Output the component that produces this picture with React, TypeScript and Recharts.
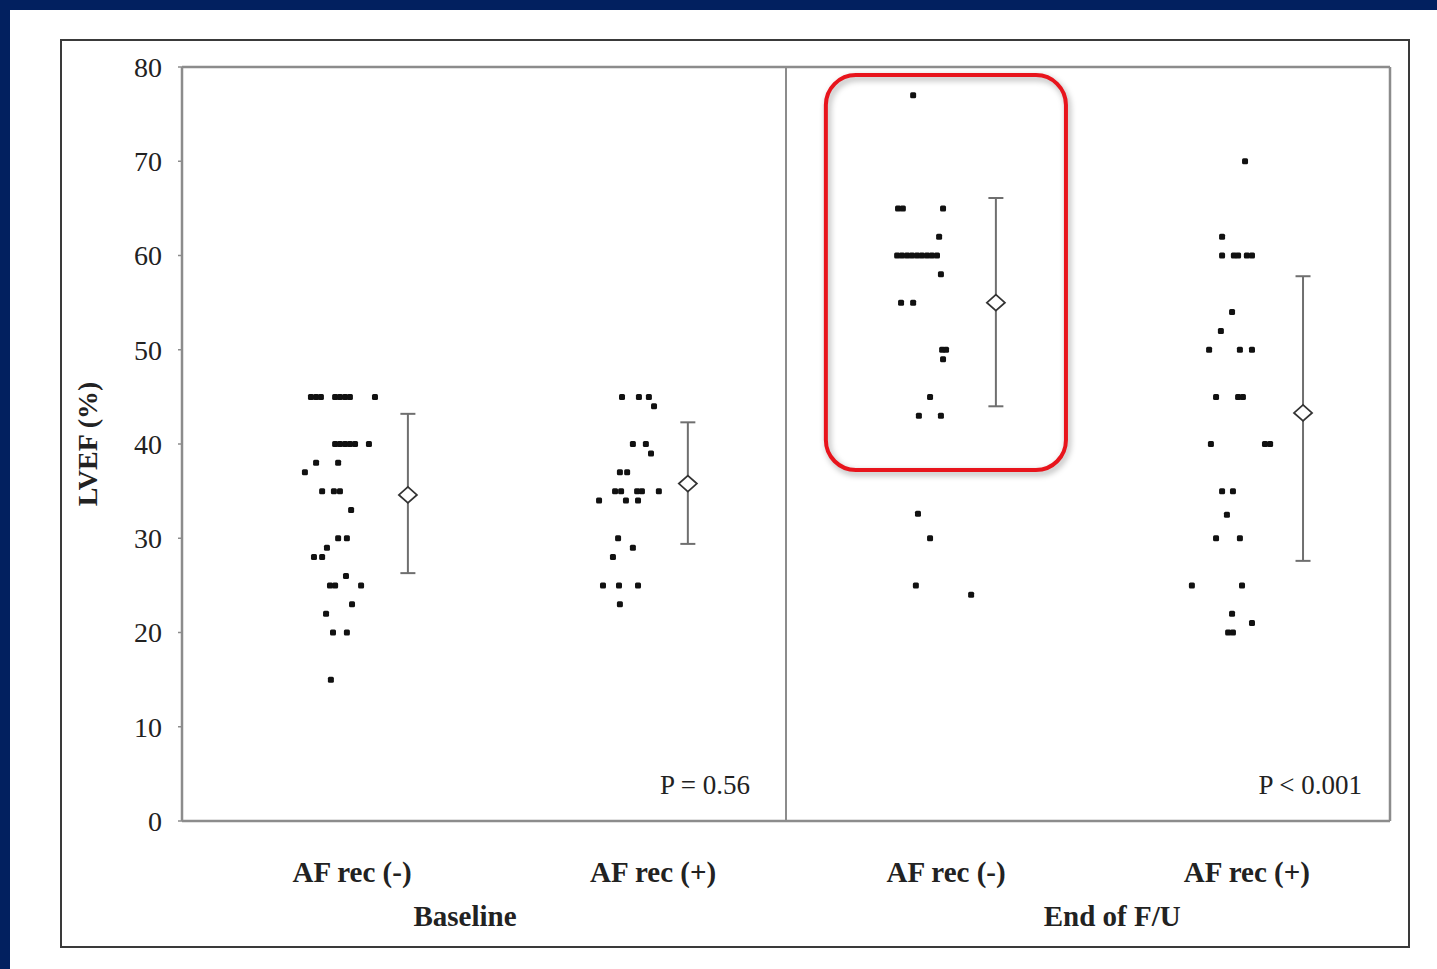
import {
  ErrorBar,
  ReferenceArea,
  ReferenceDot,
  ReferenceLine,
  Scatter,
  ScatterChart,
  XAxis,
  YAxis,
} from "recharts";

const CATEGORIES = ["AF rec (-)", "AF rec (+)", "AF rec (-)", "AF rec (+)"];
const CATEGORY_POS = [0.563, 1.56, 2.53, 3.526];
const GROUPS = ["Baseline", "End of F/U"];
const GROUP_POS = [0.937, 3.08];
const Y_TICKS = [0, 10, 20, 30, 40, 50, 60, 70, 80];

// individual patients (x = jittered position inside the category)
const BASE_NEG = [
  { x: 0.427, y: 45 }, { x: 0.444, y: 45 }, { x: 0.46, y: 45 }, { x: 0.507, y: 45 },
  { x: 0.523, y: 45 }, { x: 0.54, y: 45 }, { x: 0.556, y: 45 }, { x: 0.639, y: 45 },
  { x: 0.507, y: 40 }, { x: 0.523, y: 40 }, { x: 0.54, y: 40 }, { x: 0.556, y: 40 },
  { x: 0.573, y: 40 }, { x: 0.619, y: 40 },
  { x: 0.444, y: 38 }, { x: 0.517, y: 38 }, { x: 0.407, y: 37 },
  { x: 0.464, y: 35 }, { x: 0.503, y: 35 }, { x: 0.523, y: 35 },
  { x: 0.56, y: 33 }, { x: 0.517, y: 30 }, { x: 0.546, y: 30 }, { x: 0.48, y: 29 },
  { x: 0.437, y: 28 }, { x: 0.464, y: 28 }, { x: 0.543, y: 26 },
  { x: 0.49, y: 25 }, { x: 0.507, y: 25 }, { x: 0.593, y: 25 },
  { x: 0.563, y: 23 }, { x: 0.477, y: 22 }, { x: 0.5, y: 20 }, { x: 0.546, y: 20 },
  { x: 0.493, y: 15 },
];

const BASE_POS = [
  { x: 1.457, y: 45 }, { x: 1.513, y: 45 }, { x: 1.546, y: 45 }, { x: 1.563, y: 44 },
  { x: 1.493, y: 40 }, { x: 1.536, y: 40 }, { x: 1.553, y: 39 },
  { x: 1.45, y: 37 }, { x: 1.474, y: 37 },
  { x: 1.434, y: 35 }, { x: 1.454, y: 35 }, { x: 1.507, y: 35 }, { x: 1.523, y: 35 },
  { x: 1.579, y: 35 },
  { x: 1.381, y: 34 }, { x: 1.47, y: 34 }, { x: 1.51, y: 34 },
  { x: 1.444, y: 30 }, { x: 1.493, y: 29 }, { x: 1.427, y: 28 },
  { x: 1.394, y: 25 }, { x: 1.447, y: 25 }, { x: 1.51, y: 25 }, { x: 1.45, y: 23 },
];

const END_NEG = [
  { x: 2.421, y: 77 },
  { x: 2.371, y: 65 }, { x: 2.387, y: 65 }, { x: 2.52, y: 65 }, { x: 2.507, y: 62 },
  { x: 2.368, y: 60 }, { x: 2.384, y: 60 }, { x: 2.401, y: 60 }, { x: 2.417, y: 60 },
  { x: 2.434, y: 60 }, { x: 2.45, y: 60 }, { x: 2.467, y: 60 }, { x: 2.483, y: 60 },
  { x: 2.5, y: 60 },
  { x: 2.513, y: 58 }, { x: 2.381, y: 55 }, { x: 2.421, y: 55 },
  { x: 2.517, y: 50 }, { x: 2.53, y: 50 }, { x: 2.52, y: 49 },
  { x: 2.477, y: 45 }, { x: 2.44, y: 43 }, { x: 2.513, y: 43 },
  { x: 2.437, y: 32.6 }, { x: 2.477, y: 30 }, { x: 2.43, y: 25 }, { x: 2.613, y: 24 },
];

const END_POS = [
  { x: 3.52, y: 70 }, { x: 3.444, y: 62 },
  { x: 3.444, y: 60 }, { x: 3.483, y: 60 }, { x: 3.497, y: 60 }, { x: 3.526, y: 60 },
  { x: 3.543, y: 60 },
  { x: 3.477, y: 54 }, { x: 3.44, y: 52 },
  { x: 3.401, y: 50 }, { x: 3.503, y: 50 }, { x: 3.543, y: 50 },
  { x: 3.424, y: 45 }, { x: 3.497, y: 45 }, { x: 3.513, y: 45 },
  { x: 3.407, y: 40 }, { x: 3.586, y: 40 }, { x: 3.603, y: 40 },
  { x: 3.444, y: 35 }, { x: 3.48, y: 35 }, { x: 3.46, y: 32.5 },
  { x: 3.424, y: 30 }, { x: 3.503, y: 30 },
  { x: 3.344, y: 25 }, { x: 3.51, y: 25 }, { x: 3.477, y: 22 }, { x: 3.543, y: 21 },
  { x: 3.464, y: 20 }, { x: 3.48, y: 20 },
];

// group mean with low / high whisker
const MEAN_X = [0.748, 1.675, 2.695, 3.712];
const MEAN_Y = [34.6, 35.8, 55.0, 43.3];
const ERR_LOW = [26.3, 29.4, 44.0, 27.6];
const ERR_HIGH = [43.2, 42.3, 66.1, 57.8];

const P_LABELS = ["P = 0.56", "P < 0.001"];
const P_X = [1.881, 3.907];
const P_Y = 3.8;

// highlight box around End of F/U AF rec (-)
const HIGHLIGHT = { x1: 2.132, x2: 2.927, y1: 37.24, y2: 79.15 };

const SERIF = "'Liberation Serif', 'Times New Roman', serif";
const AXIS_GRAY = "#8c8c8c";

const means = MEAN_X.map((x, i) => ({
  x,
  y: MEAN_Y[i],
  err: [MEAN_Y[i] - ERR_LOW[i], ERR_HIGH[i] - MEAN_Y[i]],
}));

const Square = (p: any) => (
  <rect x={p.cx - 3} y={p.cy - 3} width={6} height={6} rx={1.5} fill="#111" />
);

const Diamond = (p: any) => (
  <polygon
    points={`${p.cx},${p.cy - 8} ${p.cx + 9},${p.cy} ${p.cx},${p.cy + 8} ${p.cx - 9},${p.cy}`}
    fill="#fff"
    stroke="#333"
    strokeWidth={1.8}
  />
);

const RoundBox = (p: any) => (
  <rect
    x={p.x}
    y={p.y}
    width={p.width}
    height={p.height}
    rx={30}
    ry={30}
    fill="none"
    stroke="#e8141c"
    strokeWidth={4}
    style={{ filter: "drop-shadow(2px 3px 3px rgba(0,0,0,0.35))" }}
  />
);

const pText = (label: string) => (p: any) => (
  <text
    x={p.cx}
    y={p.cy}
    textAnchor="end"
    dominantBaseline="central"
    fontFamily={SERIF}
    fontSize={27}
    fill="#222"
  >
    {label}
  </text>
);

export default function App() {
  return (
    <div
      style={{
        position: "absolute",
        left: 0,
        top: 0,
        width: 1437,
        height: 969,
        background: "#fff",
        borderTop: "10px solid #02205f",
        borderLeft: "10px solid #02205f",
        boxSizing: "border-box",
      }}
    >
      <div
        style={{
          position: "absolute",
          left: 50,
          top: 29,
          width: 1350,
          height: 909,
          border: "2px solid #3a3a3a",
          boxSizing: "border-box",
        }}
      />
      <div style={{ position: "absolute", left: -10, top: -10 }}>
        <ScatterChart
          width={1437}
          height={969}
          margin={{ top: 67, right: 47, bottom: 0, left: 0 }}
        >
          <XAxis
            type="number"
            dataKey="x"
            domain={[0, 4]}
            allowDataOverflow
            ticks={CATEGORY_POS}
            tickFormatter={(_v: number, i: number) => CATEGORIES[i]}
            interval={0}
            height={70}
            tickSize={0}
            tickMargin={40}
            axisLine={{ stroke: AXIS_GRAY, strokeWidth: 2.5 }}
            tick={{ fill: "#222", fontSize: 29, fontWeight: 700, fontFamily: SERIF }}
          />
          <XAxis
            xAxisId="grp"
            type="number"
            dataKey="x"
            domain={[0, 4]}
            allowDataOverflow
            ticks={GROUP_POS}
            tickFormatter={(_v: number, i: number) => GROUPS[i]}
            interval={0}
            height={78}
            tickSize={0}
            tickMargin={14}
            axisLine={false}
            tickLine={false}
            tick={{ fill: "#222", fontSize: 29, fontWeight: 700, fontFamily: SERIF }}
          />
          <YAxis
            type="number"
            dataKey="y"
            domain={[0, 80]}
            ticks={Y_TICKS}
            interval={0}
            width={182}
            tickSize={4}
            tickMargin={16}
            axisLine={{ stroke: AXIS_GRAY, strokeWidth: 2.5 }}
            tickLine={{ stroke: AXIS_GRAY, strokeWidth: 1.5 }}
            tick={{ fill: "#222", fontSize: 28, fontFamily: SERIF }}
            label={{
              value: "LVEF (%)",
              angle: -90,
              position: "center",
              dx: -4,
              fill: "#222",
              fontSize: 28,
              fontWeight: 700,
              fontFamily: SERIF,
            }}
          />
          <ReferenceLine y={80} stroke={AXIS_GRAY} strokeWidth={2.5} />
          <ReferenceLine x={4} stroke={AXIS_GRAY} strokeWidth={2.5} />
          <ReferenceLine x={2} stroke={AXIS_GRAY} strokeWidth={2} />
          <Scatter data={BASE_NEG} shape={Square} isAnimationActive={false} />
          <Scatter data={BASE_POS} shape={Square} isAnimationActive={false} />
          <Scatter data={END_NEG} shape={Square} isAnimationActive={false} />
          <Scatter data={END_POS} shape={Square} isAnimationActive={false} />
          <Scatter data={means} shape={Diamond} isAnimationActive={false}>
            <ErrorBar
              dataKey="err"
              direction="y"
              width={7.5}
              stroke="#6f6f6f"
              strokeWidth={2}
              isAnimationActive={false}
            />
          </Scatter>
          {P_LABELS.map((label, i) => (
            <ReferenceDot
              key={label}
              x={P_X[i]}
              y={P_Y}
              r={1}
              shape={pText(label)}
              ifOverflow="visible"
            />
          ))}
          <ReferenceArea
            x1={HIGHLIGHT.x1}
            x2={HIGHLIGHT.x2}
            y1={HIGHLIGHT.y1}
            y2={HIGHLIGHT.y2}
            shape={RoundBox}
            ifOverflow="visible"
          />
        </ScatterChart>
      </div>
    </div>
  );
}
